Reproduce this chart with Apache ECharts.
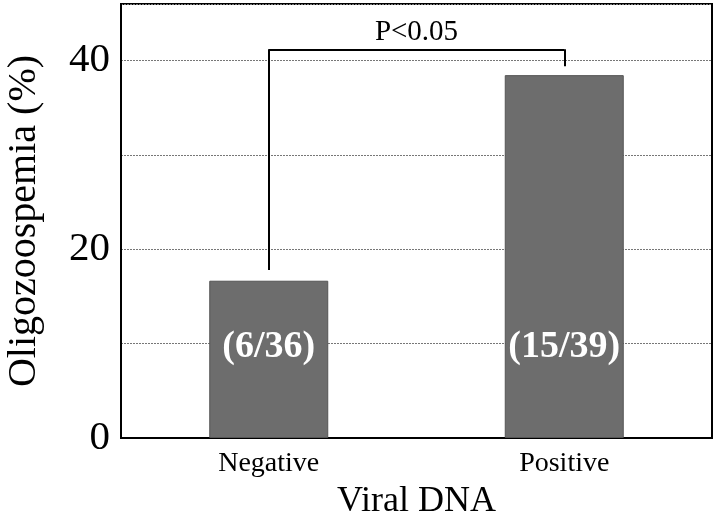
<!DOCTYPE html>
<html><head><meta charset="utf-8">
<script src="https://cdn.jsdelivr.net/npm/echarts@6/dist/echarts.min.js"></script>
<style>html,body{margin:0;padding:0;background:#fff}#c{width:718px;height:525px}</style>
</head><body><div id="c"></div>
<script>
const categories = ['Negative', 'Positive'];
const percents = [16.67, 38.46];
const fractions = ['(6/36)', '(15/39)'];
const yTicks = [0, 20, 40];
const sigText = 'P<0.05';
const bracketTop = 41.2;
const bracketEnds = [17.8, 39.4];

const F = 'Liberation Serif';
const chart = echarts.init(document.getElementById('c'));
chart.setOption({
  animation: false,
  grid: { left: 121, right: 6, top: 4, bottom: 87, show: true, borderColor: '#000', borderWidth: 2,
    backgroundColor: 'transparent', containLabel: false, outerBoundsMode: 'none' },
  xAxis: {
    type: 'category', data: categories,
    name: 'Viral DNA', nameLocation: 'middle', nameGap: 46,
    nameTextStyle: { fontFamily: F, fontSize: 36, color: '#000' },
    axisLine: { show: true, lineStyle: { color: '#000', width: 2 } },
    axisTick: { show: false },
    axisLabel: { fontFamily: F, fontSize: 28, color: '#000', margin: 12 }
  },
  yAxis: {
    type: 'value', min: 0, max: 46, interval: 10,
    name: 'Oligozoospemia (%)', nameLocation: 'middle', nameGap: 77,
    nameTextStyle: { fontFamily: F, fontSize: 40, color: '#000' },
    axisLine: { show: true, lineStyle: { color: '#000', width: 2 } },
    axisTick: { show: false },
    axisLabel: { fontFamily: F, fontSize: 41, color: '#000', margin: 11,
      formatter: v => yTicks.includes(v) ? String(v) : '' },
    splitLine: { show: true, lineStyle: { color: '#777', width: 1, type: [2, 1] } }
  },
  series: [{
    type: 'bar', data: percents, barWidth: 119,
    itemStyle: { color: '#6d6d6d', borderColor: '#555', borderWidth: 1 },
    label: { show: true, position: 'insideBottom', distance: 72,
      formatter: p => fractions[p.dataIndex],
      fontFamily: F, fontSize: 38, fontWeight: 'bold', color: '#fff' },
    markLine: {
      silent: true, symbol: 'none',
      lineStyle: { color: '#000', width: 2, type: 'solid' },
      label: { show: false },
      data: [
        [{ coord: [categories[0], bracketEnds[0]] }, { coord: [categories[0], bracketTop] }],
        [{ coord: [categories[0], bracketTop] }, { coord: [categories[1], bracketTop],
          label: { show: true, position: 'middle', distance: 2, formatter: sigText,
            fontFamily: F, fontSize: 29, color: '#000' } }],
        [{ coord: [categories[1], bracketTop] }, { coord: [categories[1], bracketEnds[1]] }]
      ]
    }
  }]
});
</script></body></html>
